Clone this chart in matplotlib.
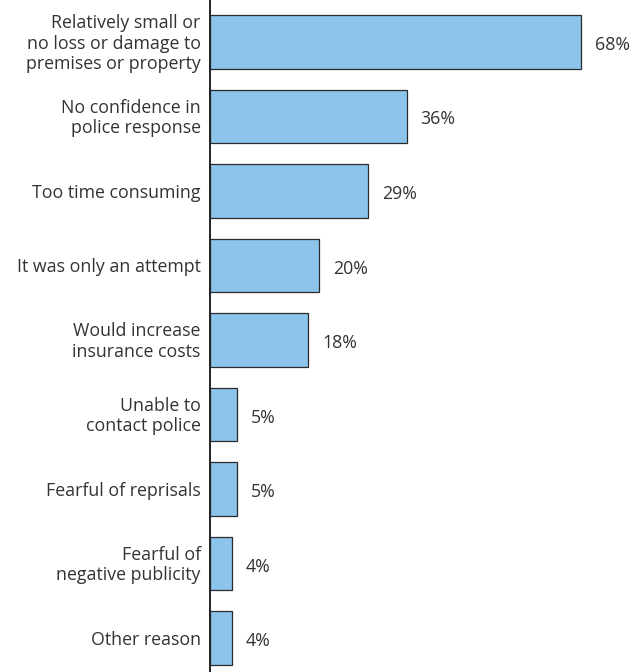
import matplotlib

matplotlib.use("Agg")
import matplotlib.pyplot as plt  # noqa: E402

REASONS = [
    "Relatively small or\nno loss or damage to\npremises or property",
    "No confidence in\npolice response",
    "Too time consuming",
    "It was only an attempt",
    "Would increase\ninsurance costs",
    "Unable to\ncontact police",
    "Fearful of reprisals",
    "Fearful of\nnegative publicity",
    "Other reason",
]
SHARES = [68, 36, 29, 20, 18, 5, 5, 4, 4]

BAR_COLOR = "#8cc4ec"
TEXT_COLOR = "#333333"

plt.rcParams["font.family"] = ["Open Sans", "DejaVu Sans"]

fig = plt.figure(figsize=(6.4, 6.72), dpi=100)
ax = fig.add_axes([210 / 640, 0, 430 / 640, 1])

ypos = list(range(len(SHARES)))
ax.barh(ypos, SHARES, height=0.72, color=BAR_COLOR, edgecolor="#2b2b2b", linewidth=0.9)

for y, v in zip(ypos, SHARES):
    ax.text(v + 2.5, y + 0.04, f"{v}%", va="center", ha="left", fontsize=12.8,
            color=TEXT_COLOR)

for y, lab in zip(ypos, REASONS):
    ax.text(-1.7, y + 0.02, lab, va="center", ha="right", fontsize=12.8, color=TEXT_COLOR,
            linespacing=1.15)

ax.set_xlim(0, 78.75)
ax.set_ylim(8.456, -0.564)
ax.set_xticks([])
ax.set_yticks([])
for side in ("top", "right", "bottom"):
    ax.spines[side].set_visible(False)
ax.spines["left"].set_color("#222222")
ax.spines["left"].set_linewidth(1.4)

# base note, sits at the very bottom edge
fig.text(490 / 640, -0.012, "Base: 2057", ha="left", va="center", fontsize=9,
         color="#666666")

fig.savefig("out.png", dpi=100)
